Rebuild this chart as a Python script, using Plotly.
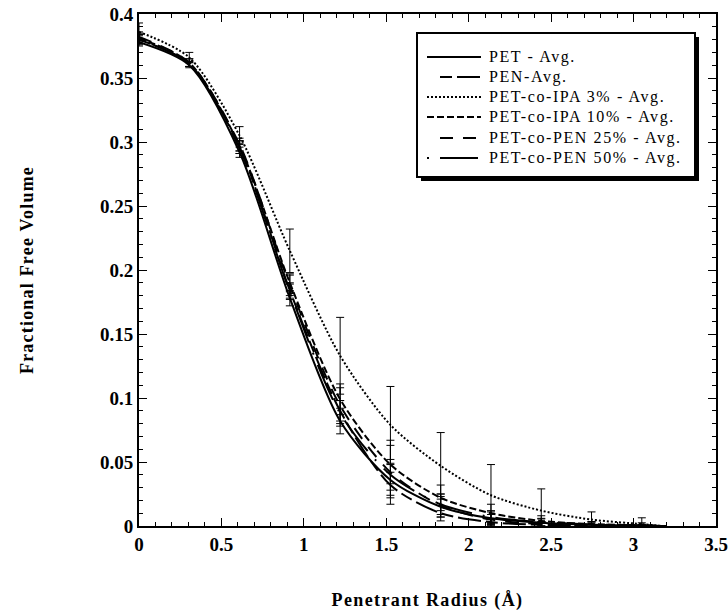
import plotly.graph_objects as go

radius = [0, 0.305, 0.61, 0.915, 1.22, 1.525, 1.83, 2.135, 2.44, 2.745, 3.05, 3.17]

pet = [0.378, 0.360, 0.292, 0.178, 0.082, 0.036, 0.015, 0.006, 0.0025, 0.001, 0.0003, 0]
pen = [0.380, 0.361, 0.296, 0.184, 0.090, 0.032, 0.010, 0.003, 0.001, 0.0003, 0.0001, 0]
ipa3 = [0.386, 0.366, 0.305, 0.215, 0.133, 0.079, 0.047, 0.024, 0.012, 0.005, 0.0015, 0]
ipa10 = [0.381, 0.362, 0.297, 0.190, 0.099, 0.048, 0.022, 0.010, 0.004, 0.0015, 0.0005, 0]
pen25 = [0.382, 0.362, 0.298, 0.188, 0.094, 0.042, 0.016, 0.005, 0.0015, 0.0005, 0.0001, 0]
pen50 = [0.380, 0.361, 0.295, 0.183, 0.088, 0.040, 0.017, 0.007, 0.003, 0.0012, 0.0004, 0]

err_pet = [0.003, 0.002, 0.004, 0.006, 0.010, 0.012, 0.008, 0.005, 0.003, 0.002, 0.001, 0]
err_pen = [0.004, 0.002, 0.005, 0.006, 0.008, 0.010, 0.006, 0.003, 0.001, 0.0005, 0.0002, 0]
err_ipa3 = [0.007, 0.004, 0.007, 0.017, 0.030, 0.030, 0.026, 0.024, 0.017, 0.006, 0.001, 0]
err_ipa10 = [0.004, 0.003, 0.004, 0.007, 0.012, 0.015, 0.010, 0.007, 0.004, 0.002, 0.0006, 0]
err_pen25 = [0.004, 0.003, 0.005, 0.008, 0.014, 0.025, 0.009, 0.004, 0.002, 0.001, 0.0003, 0]
err_pen50 = [0.003, 0.002, 0.004, 0.006, 0.010, 0.012, 0.008, 0.005, 0.003, 0.002, 0.006, 0]

names = ["PET - Avg.", "PEN-Avg.", "PET-co-IPA 3% - Avg.", "PET-co-IPA 10% - Avg.",
         "PET-co-PEN 25% - Avg.", "PET-co-PEN 50% - Avg."]
series = [pet, pen, ipa3, ipa10, pen25, pen50]
errors = [err_pet, err_pen, err_ipa3, err_ipa10, err_pen25, err_pen50]
dashes = ["solid", "12px,5px,23px,5px", "2px,2px", "7px,3px", "13px,10px", "2px,11px,38px,11px"]

x_ticks = [0, 0.5, 1, 1.5, 2, 2.5, 3, 3.5]
x_labels = ["0", "0.5", "1", "1.5", "2", "2.5", "3", "3.5"]
y_ticks = [0, 0.05, 0.1, 0.15, 0.2, 0.25, 0.3, 0.35, 0.4]
y_labels = ["0", "0.05", "0.1", "0.15", "0.2", "0.25", "0.3", "0.35", "0.4"]

SERIF = "Liberation Serif, Times New Roman, Times, serif"

fig = go.Figure()
for name, ys, es, d in zip(names, series, errors, dashes):
    fig.add_trace(go.Scatter(
        x=radius, y=ys, mode="lines", name=name, showlegend=False,
        line=dict(color="black", width=2, dash=d, shape="spline", smoothing=0.8),
        error_y=dict(type="data", array=es, visible=True, color="black",
                     thickness=1, width=4),
    ))

L, R, T, B = 139, 716, 14, 526
W, H = 728, 613


def px(x):
    return (x - L) / (R - L)


def py(y):
    return (B - y) / (B - T)


# hand-drawn legend box with drop shadow (as in the original)
lx0, lx1, ly0, ly1 = 417, 695, 33, 177
fig.add_shape(type="rect", xref="paper", yref="paper",
              x0=px(lx0 + 4), x1=px(lx1 + 4), y0=py(ly1 + 4), y1=py(ly0 + 4),
              fillcolor="black", line=dict(width=0), layer="above")
fig.add_shape(type="rect", xref="paper", yref="paper",
              x0=px(lx0), x1=px(lx1), y0=py(ly1), y1=py(ly0),
              fillcolor="white", line=dict(color="black", width=2), layer="above")
row_y = [57, 77, 97, 117, 138, 158]
sample_x0 = [427, 440, 427, 427, 440, 427]
for i, (name, d) in enumerate(zip(names, dashes)):
    fig.add_shape(type="line", xref="paper", yref="paper",
                  x0=px(sample_x0[i]), x1=px(481), y0=py(row_y[i]), y1=py(row_y[i]),
                  line=dict(color="black", width=2, dash=d), layer="above")
    fig.add_annotation(xref="paper", yref="paper", x=px(487), y=py(row_y[i]),
                       xanchor="left", yanchor="middle", showarrow=False,
                       text='<span style="letter-spacing:1.6px">' + name + '</span>',
                       font=dict(family=SERIF, size=16, color="black"))

axis_common = dict(
    showline=True, linecolor="black", linewidth=2, mirror="allticks",
    ticks="inside", ticklen=8, tickwidth=1, tickcolor="black",
    showgrid=False, zeroline=False, ticklabeloverflow="allow",
    tickfont=dict(family=SERIF, size=19, color="black", weight="bold"),
)

title_font = dict(family=SERIF, size=18, color="black", weight="bold")

fig.update_xaxes(range=[0, 3.5], tickvals=x_ticks,
                 ticktext=["<b>" + t + "</b>" for t in x_labels],
                 minor=dict(dtick=0.1, ticks="inside", ticklen=4, tickcolor="black", showgrid=False),
                 title=dict(text='<span style="letter-spacing:1.4px">Penetrant Radius (Å)</span>',
                            font=title_font, standoff=40),
                 **axis_common)
fig.update_yaxes(range=[0, 0.4], tickvals=y_ticks,
                 ticktext=["<b>" + t + "</b>" for t in y_labels],
                 minor=dict(dtick=0.01, ticks="inside", ticklen=4, tickcolor="black", showgrid=False),
                 title=dict(text='<span style="letter-spacing:1.2px">Fractional Free Volume</span>',
                            font=title_font, standoff=62),
                 **axis_common)

fig.update_layout(
    width=W, height=H,
    margin=dict(l=L, r=W - R, t=T, b=H - B, autoexpand=False),
    paper_bgcolor="white", plot_bgcolor="white",
    showlegend=False,
    font=dict(family=SERIF, color="black"),
)

fig.write_html("out.html")
